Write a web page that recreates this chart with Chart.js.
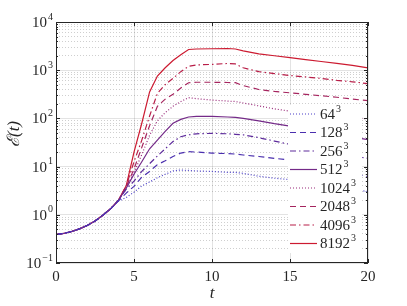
<!DOCTYPE html>
<html>
<head>
<meta charset="utf-8">
<script src="https://cdn.jsdelivr.net/npm/chart.js@4.4.1/dist/chart.umd.min.js"></script>
<style>
  html, body { margin: 0; padding: 0; background: #fff; }
</style>
</head>
<body>
<canvas id="chart" width="407" height="306"></canvas>
<script>
// time samples
const times = [0, 0.5, 1, 1.5, 2, 2.5, 3, 3.5, 4, 4.5, 5, 5.5, 6, 6.5, 7, 7.5, 8, 8.5, 9, 10, 11, 11.5, 12, 13, 14, 15, 16, 17, 18, 19, 20];

// enstrophy for each resolution
const e64   = [0.39, 0.41, 0.45, 0.51, 0.60, 0.74, 0.98, 1.33, 1.91, 2.29, 2.95, 3.98, 4.79, 5.89, 6.92, 8.13, 8.51, 8.32, 8.13, 7.94, 7.59, 7.59, 7.24, 6.31, 5.75, 5.37, 4.79, 4.27, 3.80, 3.39, 3.02];
const e128  = [0.39, 0.41, 0.45, 0.51, 0.60, 0.74, 0.98, 1.33, 1.95, 2.82, 3.89, 6.03, 7.94, 11.0, 13.2, 16.2, 19.1, 20.4, 20.0, 19.1, 18.6, 18.2, 17.4, 16.2, 14.8, 13.8, 11.7, 10.0, 8.51, 7.24, 6.17];
const e256  = [0.39, 0.41, 0.45, 0.51, 0.60, 0.74, 0.98, 1.33, 2.0, 3.39, 5.01, 7.94, 11.5, 16.6, 23.4, 33.1, 41.7, 45.7, 47.9, 49.0, 47.9, 46.8, 45.7, 39.8, 33.9, 28.8, 25.1, 21.9, 19.1, 16.6, 14.8];
const e512  = [0.39, 0.41, 0.45, 0.51, 0.60, 0.74, 0.98, 1.33, 2.0, 3.55, 6.92, 12.6, 23.4, 35.5, 53.7, 79.4, 95.5, 107, 110, 110, 107, 105, 100, 89.1, 77.6, 69.2, 60.3, 52.5, 46.8, 40.7, 36.3];
const e1024 = [0.39, 0.41, 0.45, 0.51, 0.60, 0.74, 0.98, 1.33, 2.0, 3.63, 7.59, 17.8, 44.7, 89.1, 132, 178, 224, 269, 257, 240, 229, 224, 209, 182, 158, 141, 132, 123, 115, 105, 97.7];
const e2048 = [0.39, 0.41, 0.45, 0.51, 0.60, 0.74, 0.98, 1.33, 2.0, 3.80, 8.91, 25.1, 70.8, 178, 251, 316, 427, 550, 562, 562, 556, 550, 479, 398, 363, 339, 316, 295, 275, 251, 234];
const e4096 = [0.39, 0.41, 0.45, 0.51, 0.60, 0.74, 0.98, 1.33, 2.0, 3.98, 12.6, 35.5, 112, 331, 501, 676, 933, 1202, 1288, 1318, 1380, 1349, 1122, 933, 851, 776, 724, 676, 617, 575, 525];
const e8192 = [0.39, 0.41, 0.45, 0.51, 0.60, 0.74, 0.98, 1.33, 2.0, 3.98, 20.0, 79.4, 355, 759, 1122, 1585, 2089, 2692, 2754, 2786, 2818, 2754, 2512, 2188, 1995, 1820, 1660, 1514, 1380, 1259, 1122];

const resolutions = ['64', '128', '256', '512', '1024', '2048', '4096', '8192'];
const seriesValues = [e64, e128, e256, e512, e1024, e2048, e4096, e8192];

const xTicks = [0, 5, 10, 15, 20];
const yDecades = [0.1, 1, 10, 100, 1000, 10000];
const yExponents = ['\u22121', '0', '1', '2', '3', '4'];

// styles
const colors = ['#4a3fc8', '#4a2fae', '#5e2c9c', '#742a88', '#992a7a', '#a5245e', '#b81e48', '#cc1a30'];
const dashes = [[1, 2], [6, 4], [6, 3, 1.5, 3], [], [1, 2], [6, 4], [6, 3, 1.5, 3], []];

const serif = '"Liberation Serif", "DejaVu Serif", serif';
const majorGrid = 'rgba(38,38,38,0.13)';
const minorGrid = 'rgba(38,38,38,0.22)';

function isDecade(v) {
    const l = Math.log10(v);
    return Math.abs(l - Math.round(l)) < 1e-6;
}

function drawPow(ctx, base, exp, x, y, align) {
    ctx.font = '15px ' + serif;
    const wb = ctx.measureText(base).width;
    ctx.font = '10px ' + serif;
    const we = ctx.measureText(exp).width;
    const x0 = align === 'right' ? x - wb - we - 1 : x;
    ctx.textAlign = 'left';
    ctx.textBaseline = 'middle';
    ctx.fillStyle = '#262626';
    ctx.font = '15px ' + serif;
    ctx.fillText(base, x0, y);
    ctx.font = '10px ' + serif;
    ctx.fillText(exp, x0 + wb + 1, y - 6);
}

const axesPlugin = {
    id: 'axesBox',
    afterDatasetsDraw(chart) {
        const ctx = chart.ctx;

        // legend
        ctx.save();
        ctx.fillStyle = '#fff';
        ctx.fillRect(288, 105, 74, 148);
        resolutions.forEach((r, i) => {
            const y = 114 + i * 18.5;
            ctx.strokeStyle = colors[i];
            ctx.lineWidth = 1.2;
            ctx.setLineDash(dashes[i]);
            ctx.beginPath();
            ctx.moveTo(290, y);
            ctx.lineTo(317, y);
            ctx.stroke();
            ctx.setLineDash([]);
            drawPow(ctx, r, '3', 320, y + 1, 'left');
        });
        ctx.restore();
    },
    afterDraw(chart) {
        const ctx = chart.ctx;
        const { left, right, top, bottom } = chart.chartArea;
        const xs = chart.scales.x, ys = chart.scales.y;
        ctx.save();
        ctx.strokeStyle = '#262626';
        ctx.lineWidth = 1;
        ctx.strokeRect(left + 0.5, top + 0.5, right - left - 1, bottom - top - 1);

        ctx.beginPath();
        xTicks.forEach(v => {
            const px = Math.round(xs.getPixelForValue(v)) + 0.5;
            ctx.moveTo(px, bottom); ctx.lineTo(px, bottom - 4);
            ctx.moveTo(px, top); ctx.lineTo(px, top + 4);
        });
        yDecades.forEach(d => {
            for (let m = 1; m <= 9; m++) {
                const v = d * m;
                if (v > 10000.0001) break;
                const py = Math.round(ys.getPixelForValue(v)) + 0.5;
                const len = m === 1 ? 4 : 2;
                ctx.moveTo(left, py); ctx.lineTo(left + len, py);
                ctx.moveTo(right, py); ctx.lineTo(right - len, py);
            }
        });
        ctx.stroke();

        // tick labels
        ctx.fillStyle = '#262626';
        ctx.font = '15px ' + serif;
        ctx.textAlign = 'center';
        ctx.textBaseline = 'middle';
        xTicks.forEach(v => ctx.fillText(String(v), xs.getPixelForValue(v), bottom + 14));
        yDecades.forEach((d, i) => drawPow(ctx, '10', yExponents[i], left - 3, ys.getPixelForValue(d) + 1, 'right'));

        // axis titles
        ctx.font = 'italic 17px ' + serif;
        ctx.textAlign = 'center';
        ctx.fillText('t', (left + right) / 2, 294);
        ctx.translate(15, 134);
        ctx.rotate(-Math.PI / 2);
        ctx.fillText('\u2130(t)', 0, 0);
        ctx.restore();
    }
};

new Chart(document.getElementById('chart'), {
    type: 'line',
    data: {
        datasets: resolutions.map((r, i) => ({
            label: r + '\u00b3',
            data: times.map((t, j) => ({ x: t, y: seriesValues[i][j] })),
            borderColor: colors[i],
            borderDash: dashes[i],
            borderWidth: 1.2,
            pointRadius: 0,
            tension: 0,
            fill: false,
        })),
    },
    options: {
        responsive: false,
        animation: false,
        layout: { padding: { left: 56, right: 39, top: 22, bottom: 43 } },
        plugins: { legend: { display: false }, tooltip: { enabled: false } },
        scales: {
            x: {
                type: 'linear', min: 0, max: 20,
                afterBuildTicks: s => { s.ticks = xTicks.map(v => ({ value: v })); },
                ticks: { display: false },
                grid: { drawTicks: false, color: majorGrid },
                border: { display: false },
            },
            y: {
                type: 'logarithmic', min: 0.1, max: 10000,
                afterBuildTicks: s => {
                    s.ticks = [];
                    yDecades.forEach(d => {
                        for (let m = 1; m <= 9; m++) {
                            if (d * m <= 10000.0001) s.ticks.push({ value: d * m });
                        }
                    });
                },
                ticks: { display: false },
                grid: { drawTicks: false, color: c => (c.tick && isDecade(c.tick.value)) ? majorGrid : minorGrid },
                border: { display: false, dash: c => (c.tick && !isDecade(c.tick.value)) ? [1, 2] : [] },
            },
        },
    },
    plugins: [axesPlugin],
});
</script>
</body>
</html>
